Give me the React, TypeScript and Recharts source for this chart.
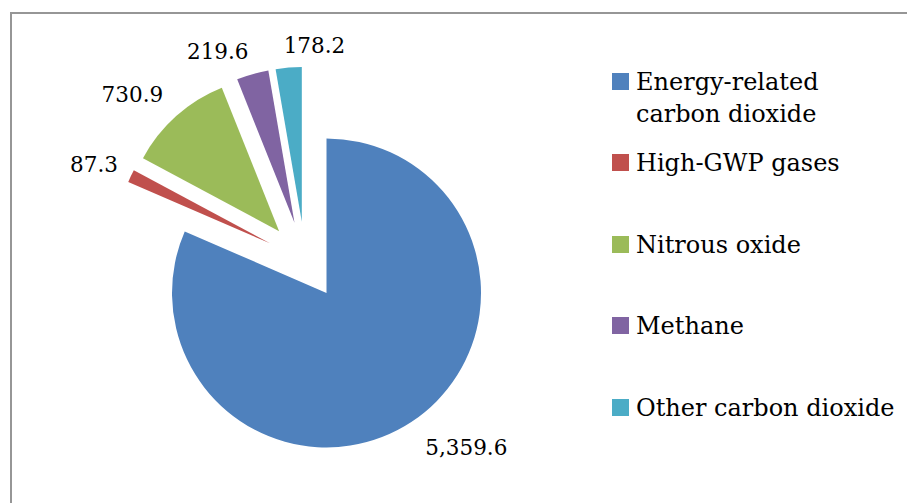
import React from 'react';
import { PieChart, Pie, Cell, Legend } from 'recharts';

const categories = [
  'Energy-related carbon dioxide',
  'High-GWP gases',
  'Nitrous oxide',
  'Methane',
  'Other carbon dioxide',
];
const values = [5359.6, 87.3, 730.9, 219.6, 178.2];
const valueLabels = ['5,359.6', '87.3', '730.9', '219.6', '178.2'];
const colors = ['#4F81BD', '#C0504D', '#9BBB59', '#8064A2', '#4BACC6'];

const data = categories.map((name, i) => ({ name, value: values[i] }));

// layout / style
const W = 907;
const H = 503;
const CX = 305.1;
const CY = 260.3;
const R = 154.5;
const EXPLODE = 39;
const FONT = '"DejaVu Serif", serif';
const labelAnchor = ['start', 'end', 'end', 'end', 'start'];
const labelShift: [number, number][] = [
  [14, 33],
  [-13, -4],
  [-13, -14],
  [-4, -15],
  [-5, -15],
];

const total = values.reduce((a, b) => a + b, 0);
const explodeOffsets = values.map((v, i) => {
  const before = values.slice(0, i).reduce((a, b) => a + b, 0);
  const theta = ((before + v / 2) / total) * 2 * Math.PI;
  return [EXPLODE * Math.sin(theta), -EXPLODE * Math.cos(theta)];
});

const RAD = Math.PI / 180;
const makeLabel = (own: number) => (props: any) => {
  if (props.index !== own) return null;
  const { cx, cy, midAngle, outerRadius } = props;
  const px = cx + outerRadius * Math.cos(-midAngle * RAD);
  const py = cy + outerRadius * Math.sin(-midAngle * RAD);
  const [dx, dy] = labelShift[own];
  return (
    <text
      x={px + dx}
      y={py + dy}
      textAnchor={labelAnchor[own] as any}
      fill="#000"
      fontSize={21.5}
      fontFamily={FONT}
    >
      {valueLabels[own]}
    </text>
  );
};

const renderLegend = () => (
  <div style={{ fontFamily: FONT, fontSize: 24, color: '#000' }}>
    {categories.map((c, i) => (
      <div
        key={c}
        style={{ display: 'flex', alignItems: 'flex-start', height: 81.4 }}
      >
        <div
          style={{
            width: 17,
            height: 17,
            marginTop: 7,
            marginRight: 7,
            background: colors[i],
            flex: '0 0 auto',
          }}
        />
        <div style={{ lineHeight: '32px', width: 266 }}>{c}</div>
      </div>
    ))}
  </div>
);

export default function App() {
  return (
    <div
      style={{
        position: 'fixed',
        left: 0,
        top: 0,
        width: W,
        height: H,
        overflow: 'hidden',
        background: '#fff',
      }}
    >
      <div
        style={{
          position: 'absolute',
          left: 10,
          top: 12,
          width: W - 10,
          height: H - 12,
          borderTop: '2px solid #969696',
          borderLeft: '2px solid #969696',
          boxSizing: 'border-box',
        }}
      />
      <PieChart width={W} height={H} margin={{ top: 0, right: 0, bottom: 0, left: 0 }}>
        {values.map((_, i) => (
          <Pie
            key={i}
            data={data}
            dataKey="value"
            nameKey="name"
            cx={CX + explodeOffsets[i][0]}
            cy={CY + explodeOffsets[i][1]}
            outerRadius={R}
            innerRadius={0}
            startAngle={90}
            endAngle={-270}
            stroke="none"
            isAnimationActive={false}
            label={makeLabel(i)}
            labelLine={false}
          >
            {data.map((d, j) => (
              <Cell key={d.name} fill={j === i ? colors[j] : 'none'} stroke="none" />
            ))}
          </Pie>
        ))}
        <Legend
          layout="vertical"
          align="right"
          verticalAlign="middle"
          content={renderLegend}
          wrapperStyle={{ left: 612, top: 66, width: 295 }}
        />
      </PieChart>
    </div>
  );
}
